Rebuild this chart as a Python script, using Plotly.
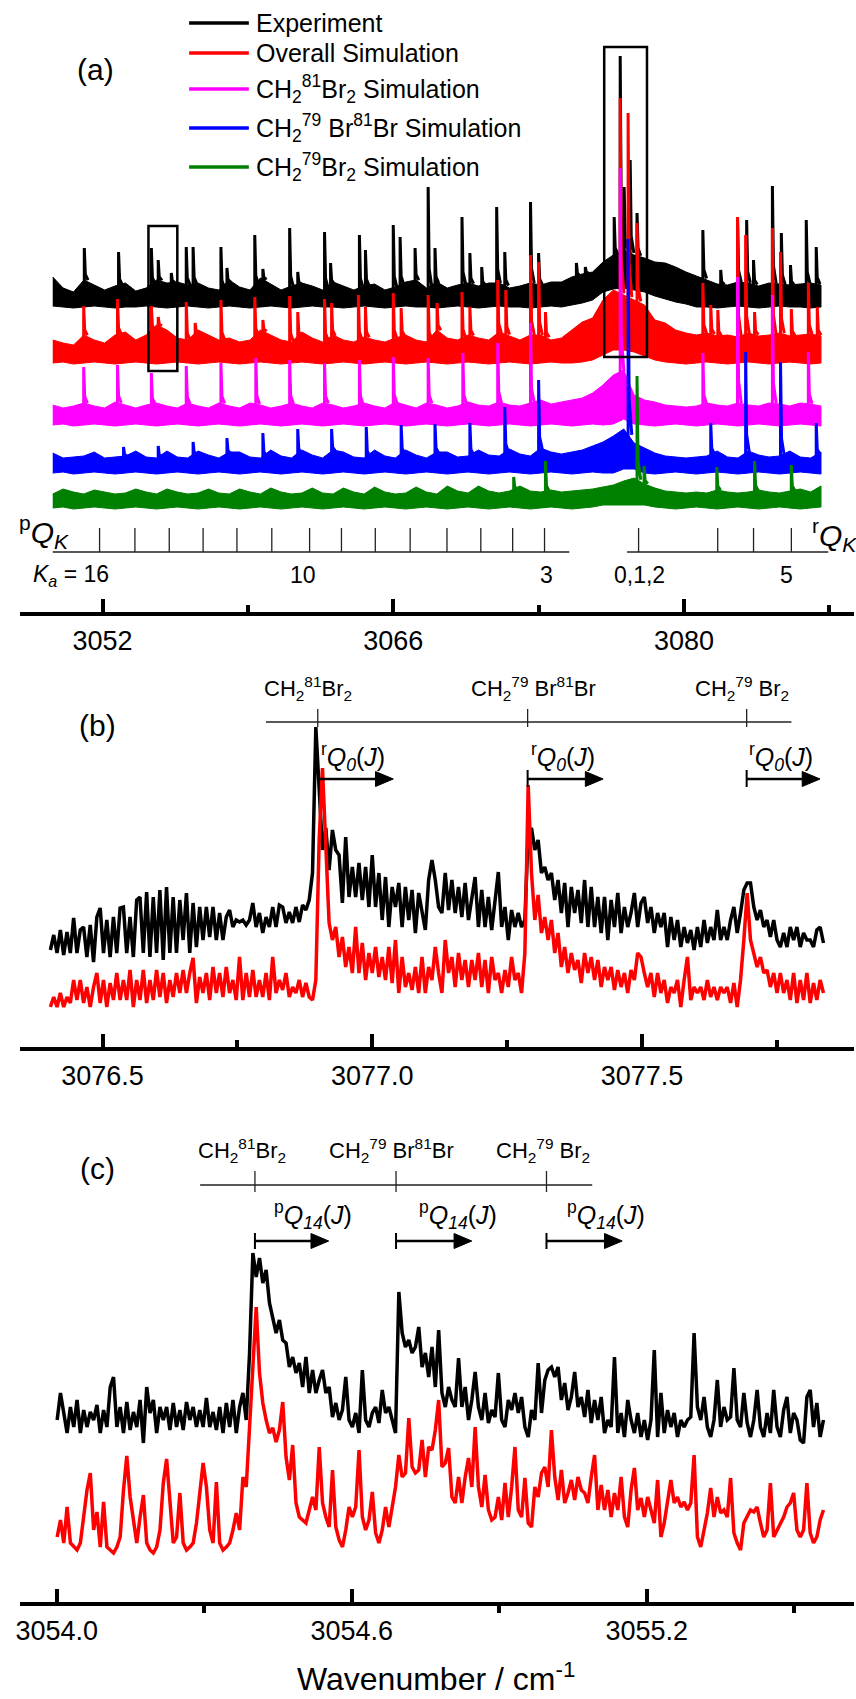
import numpy as np
import plotly.graph_objects as go

FONT = "Liberation Sans, Arial, Helvetica, sans-serif"
W, H = 856, 1699
BLACK, RED, MAG, BLUE, GREEN = "#000000", "#ff0000", "#ff00ff", "#0000ff", "#008000"

# ================= Panel (a): overview 3048-3088 cm-1 =================
A_GRID_START, A_GRID_END, A_GRID_N = 3049.6, 3086.6, 75

A_BLACK_HI = [3.35, 3.24, 3.20, 3.32, 3.27, 3.22, 3.26, 3.29, 3.21, 3.24,
              3.32, 3.29, 3.30, 3.27, 3.29, 3.24, 3.22, 3.32, 3.25, 3.22,
              3.34, 3.28, 3.22, 3.26, 3.29, 3.26, 3.22, 3.30, 3.26, 3.22,
              3.26, 3.28, 3.22, 3.25, 3.30, 3.32, 3.24, 3.30, 3.24, 3.27,
              3.29, 3.26, 3.29, 3.29, 3.24, 3.26, 3.29, 3.27, 3.30, 3.30,
              3.35, 3.38, 3.40, 3.50, 3.57, 3.62, 3.57, 3.54, 3.50, 3.49,
              3.45, 3.40, 3.36, 3.32, 3.28, 3.27, 3.30, 3.29, 3.26, 3.29,
              3.28, 3.27, 3.28, 3.29, 3.27]
A_BLACK_LO = [3.06, 3.05, 3.04, 3.05, 3.06, 3.05, 3.04, 3.05, 3.05, 3.06,
              3.05, 3.04, 3.05, 3.06, 3.05, 3.04, 3.05, 3.06, 3.05, 3.04,
              3.05, 3.06, 3.05, 3.04, 3.05, 3.06, 3.05, 3.05, 3.04, 3.05,
              3.06, 3.05, 3.04, 3.05, 3.06, 3.05, 3.05, 3.04, 3.05, 3.06,
              3.05, 3.04, 3.05, 3.06, 3.05, 3.05, 3.04, 3.05, 3.06, 3.05,
              3.07, 3.09, 3.12, 3.20, 3.23, 3.24, 3.22, 3.20, 3.16, 3.13,
              3.10, 3.08, 3.05, 3.05, 3.04, 3.05, 3.06, 3.05, 3.04, 3.05,
              3.06, 3.05, 3.05, 3.04, 3.05]
A_BLACK_PK_X = [3051.12, 3052.77, 3054.35, 3054.68, 3055.31, 3056.03, 3056.36, 3057.70, 3057.99, 3059.33,
                3059.72, 3061.01, 3061.40, 3062.69, 3062.98, 3064.37, 3064.66, 3066.00, 3066.33, 3067.05,
                3067.68, 3068.01, 3069.31, 3069.69, 3070.26, 3070.98, 3071.37, 3072.61, 3073.00, 3074.82,
                3075.25, 3076.64, 3076.93, 3077.12, 3077.41, 3077.74, 3080.91, 3081.77, 3082.58, 3083.02,
                3083.35, 3084.26, 3084.69, 3085.13, 3085.89, 3086.37]
A_BLACK_PK_Y = [3.64, 3.60, 3.64, 3.52, 3.39, 3.65, 3.65, 3.65, 3.44, 3.77,
                3.43, 3.84, 3.40, 3.80, 3.49, 3.77, 3.62, 3.87, 3.75, 3.64,
                4.25, 3.64, 3.95, 3.59, 3.45, 4.05, 3.60, 4.10, 3.59, 3.49,
                3.45, 3.95, 5.56, 4.25, 4.52, 3.99, 3.82, 3.42, 3.95, 3.92,
                3.52, 4.26, 3.79, 3.47, 3.92, 3.65]

A_RED_HI = [2.72, 2.69, 2.67, 2.77, 2.72, 2.69, 2.77, 2.80, 2.72, 2.77,
            2.87, 2.82, 2.74, 2.72, 2.82, 2.77, 2.72, 2.74, 2.70, 2.72,
            2.82, 2.77, 2.72, 2.70, 2.80, 2.74, 2.70, 2.77, 2.72, 2.70,
            2.75, 2.72, 2.70, 2.74, 2.77, 2.72, 2.70, 2.82, 2.74, 2.72,
            2.77, 2.74, 2.72, 2.80, 2.76, 2.72, 2.77, 2.77, 2.72, 2.74,
            2.82, 2.90, 2.94, 3.12, 3.22, 3.17, 3.12, 3.07, 2.92, 2.89,
            2.82, 2.79, 2.77, 2.79, 2.76, 2.77, 2.75, 2.79, 2.76, 2.77,
            2.79, 2.76, 2.77, 2.78, 2.76]
A_RED_LO = [2.49, 2.50, 2.48, 2.49, 2.50, 2.49, 2.48, 2.49, 2.50, 2.49,
            2.48, 2.49, 2.50, 2.49, 2.48, 2.49, 2.50, 2.49, 2.48, 2.49,
            2.50, 2.49, 2.48, 2.49, 2.50, 2.49, 2.48, 2.49, 2.50, 2.49,
            2.48, 2.49, 2.50, 2.49, 2.48, 2.49, 2.50, 2.49, 2.48, 2.49,
            2.50, 2.49, 2.48, 2.49, 2.50, 2.49, 2.48, 2.49, 2.50, 2.49,
            2.49, 2.50, 2.52, 2.57, 2.62, 2.62, 2.60, 2.56, 2.52, 2.50,
            2.49, 2.48, 2.49, 2.50, 2.49, 2.48, 2.49, 2.50, 2.49, 2.48,
            2.49, 2.50, 2.49, 2.48, 2.49]
A_RED_PK_X = [3051.09, 3052.72, 3054.35, 3054.68, 3056.03, 3056.46, 3057.70, 3059.33, 3059.72, 3061.01,
              3061.40, 3062.69, 3063.03, 3064.32, 3064.66, 3066.00, 3066.38, 3067.68, 3068.11, 3069.31,
              3069.69, 3071.03, 3071.42, 3072.61, 3073.00, 3073.33, 3076.93, 3077.31, 3077.74, 3080.91,
              3081.29, 3081.63, 3082.58, 3082.97, 3083.40, 3084.26, 3084.65, 3085.17, 3085.99, 3086.42]
A_RED_PK_Y = [3.06, 3.13, 3.06, 2.95, 3.10, 2.89, 3.12, 3.15, 2.92, 3.16,
              3.00, 3.13, 3.09, 3.17, 3.05, 3.19, 3.04, 3.17, 3.09, 3.20,
              3.05, 3.32, 3.22, 3.57, 3.50, 3.00, 5.14, 4.99, 3.89, 3.29,
              3.07, 3.02, 3.95, 3.77, 3.00, 3.84, 3.60, 3.03, 3.29, 3.05]

A_MAG_HI = [2.07, 2.04, 2.06, 2.09, 2.06, 2.04, 2.10, 2.07, 2.04, 2.07,
            2.09, 2.06, 2.04, 2.09, 2.06, 2.04, 2.09, 2.06, 2.04, 2.09,
            2.07, 2.04, 2.06, 2.09, 2.06, 2.04, 2.09, 2.07, 2.04, 2.06,
            2.09, 2.06, 2.04, 2.10, 2.07, 2.04, 2.09, 2.07, 2.04, 2.06,
            2.10, 2.07, 2.06, 2.10, 2.07, 2.06, 2.09, 2.12, 2.08, 2.10,
            2.12, 2.14, 2.19, 2.27, 2.37, 2.42, 2.17, 2.12, 2.10, 2.07,
            2.06, 2.05, 2.06, 2.09, 2.07, 2.06, 2.09, 2.07, 2.06, 2.09,
            2.08, 2.06, 2.09, 2.08, 2.06]
A_MAG_LO = [1.87, 1.88, 1.86, 1.87, 1.88, 1.87, 1.86, 1.87, 1.88, 1.87,
            1.86, 1.87, 1.88, 1.87, 1.86, 1.87, 1.88, 1.87, 1.86, 1.87,
            1.88, 1.87, 1.86, 1.87, 1.88, 1.87, 1.86, 1.87, 1.88, 1.87,
            1.86, 1.87, 1.88, 1.87, 1.86, 1.87, 1.88, 1.87, 1.86, 1.87,
            1.88, 1.87, 1.86, 1.87, 1.88, 1.87, 1.86, 1.87, 1.88, 1.87,
            1.86, 1.87, 1.88, 1.87, 1.88, 1.93, 1.88, 1.87, 1.86, 1.87,
            1.88, 1.87, 1.86, 1.87, 1.88, 1.87, 1.86, 1.87, 1.88, 1.87,
            1.86, 1.87, 1.88, 1.87, 1.86]
A_MAG_PK_X = [3051.09, 3052.72, 3054.35, 3056.03, 3057.70, 3059.38, 3061.01, 3062.69, 3064.37, 3066.00,
              3067.68, 3069.35, 3071.03, 3072.61, 3076.93, 3080.91, 3082.58, 3084.26, 3085.99]
A_MAG_PK_Y = [2.45, 2.47, 2.39, 2.46, 2.49, 2.54, 2.52, 2.49, 2.52, 2.55,
              2.54, 2.59, 2.69, 2.89, 4.44, 2.59, 3.35, 3.17, 2.60]

A_BLUE_HI = [1.59, 1.54, 1.55, 1.56, 1.60, 1.54, 1.55, 1.56, 1.61, 1.55,
             1.54, 1.61, 1.55, 1.54, 1.61, 1.57, 1.54, 1.60, 1.60, 1.55,
             1.54, 1.62, 1.56, 1.54, 1.62, 1.57, 1.54, 1.62, 1.60, 1.55,
             1.54, 1.62, 1.56, 1.54, 1.62, 1.57, 1.54, 1.60, 1.60, 1.55,
             1.56, 1.62, 1.57, 1.56, 1.63, 1.58, 1.56, 1.64, 1.60, 1.58,
             1.60, 1.62, 1.66, 1.70, 1.76, 1.83, 1.69, 1.64, 1.59, 1.56,
             1.55, 1.54, 1.55, 1.56, 1.61, 1.55, 1.54, 1.61, 1.57, 1.55,
             1.56, 1.61, 1.55, 1.54, 1.60]
A_BLUE_LO = [1.39, 1.40, 1.38, 1.39, 1.40, 1.39, 1.38, 1.39, 1.40, 1.39,
             1.38, 1.39, 1.40, 1.39, 1.38, 1.39, 1.40, 1.39, 1.38, 1.39,
             1.40, 1.39, 1.38, 1.39, 1.40, 1.39, 1.38, 1.39, 1.40, 1.39,
             1.38, 1.39, 1.40, 1.39, 1.38, 1.39, 1.40, 1.39, 1.38, 1.39,
             1.40, 1.39, 1.38, 1.39, 1.40, 1.39, 1.38, 1.39, 1.40, 1.39,
             1.38, 1.39, 1.40, 1.39, 1.39, 1.43, 1.43, 1.39, 1.38, 1.39,
             1.40, 1.39, 1.38, 1.39, 1.40, 1.39, 1.38, 1.39, 1.40, 1.39,
             1.38, 1.39, 1.40, 1.39, 1.38]
A_BLUE_PK_X = [3053.01, 3054.68, 3056.36, 3057.99, 3059.72, 3061.40, 3063.03, 3064.70, 3066.38, 3068.01,
               3069.69, 3071.37, 3073.00, 3077.31, 3081.29, 3082.97, 3084.65, 3086.37]
A_BLUE_PK_Y = [1.65, 1.66, 1.70, 1.74, 1.79, 1.83, 1.83, 1.85, 1.87, 1.88,
               1.89, 2.05, 2.32, 3.73, 1.89, 2.60, 2.50, 1.89]

A_GREEN_HI = [1.18, 1.23, 1.20, 1.18, 1.22, 1.20, 1.18, 1.19, 1.23, 1.20,
              1.18, 1.23, 1.20, 1.18, 1.19, 1.23, 1.19, 1.18, 1.23, 1.20,
              1.18, 1.24, 1.20, 1.18, 1.19, 1.24, 1.19, 1.18, 1.24, 1.20,
              1.18, 1.25, 1.20, 1.18, 1.19, 1.25, 1.20, 1.18, 1.26, 1.21,
              1.19, 1.26, 1.21, 1.19, 1.21, 1.26, 1.21, 1.20, 1.22, 1.20,
              1.21, 1.22, 1.23, 1.25, 1.27, 1.31, 1.34, 1.28, 1.24, 1.21,
              1.20, 1.19, 1.20, 1.19, 1.22, 1.20, 1.19, 1.20, 1.22, 1.20,
              1.19, 1.21, 1.23, 1.20, 1.26]
A_GREEN_LO = [1.04, 1.05, 1.03, 1.04, 1.05, 1.04, 1.03, 1.04, 1.05, 1.04,
              1.03, 1.04, 1.05, 1.04, 1.03, 1.04, 1.05, 1.04, 1.03, 1.04,
              1.05, 1.04, 1.03, 1.04, 1.05, 1.04, 1.03, 1.04, 1.05, 1.04,
              1.03, 1.04, 1.05, 1.04, 1.03, 1.04, 1.05, 1.04, 1.03, 1.04,
              1.05, 1.04, 1.03, 1.04, 1.05, 1.04, 1.03, 1.04, 1.05, 1.04,
              1.03, 1.04, 1.05, 1.07, 1.07, 1.07, 1.07, 1.07, 1.05, 1.04,
              1.03, 1.04, 1.05, 1.04, 1.03, 1.04, 1.05, 1.04, 1.03, 1.04,
              1.05, 1.04, 1.03, 1.04, 1.05]
A_GREEN_PK_X = [3071.80, 3073.33, 3077.74, 3078.08, 3081.58, 3083.40, 3085.17]
A_GREEN_PK_Y = [1.35, 1.51, 2.36, 1.46, 1.45, 1.51, 1.47]

PQ_K_TICKS = [3051.856, 3053.558, 3055.212, 3056.842, 3058.472, 3060.150, 3061.971,
              3063.505, 3065.135, 3066.813, 3068.587, 3070.217, 3071.751, 3073.285]
RQ_K_TICKS = [3077.815, 3081.626, 3083.351, 3085.173]
KA_LABELS = ["<i>K</i><sub><i>a</i></sub> = 16", "10", "3", "0,1,2", "5"]
KA_LABEL_X = [3050.47, 3061.64, 3073.38, 3077.84, 3084.93]

# ================= Panel (b): 3076.35-3077.9 cm-1 =================
B_X_START, B_X_END = 3076.4034, 3077.8364
B_BLACK = [0.97, 1.12, 0.94, 1.17, 0.92, 1.15, 0.94, 1.29, 0.94, 1.17,
           1.20, 0.90, 1.22, 0.85, 1.30, 1.39, 0.94, 1.27, 0.90, 1.30,
           0.94, 1.39, 1.40, 0.94, 1.30, 0.90, 1.47, 1.50, 0.94, 1.55,
           0.90, 1.50, 0.94, 1.57, 0.87, 1.60, 0.94, 1.50, 0.94, 1.47,
           1.07, 1.54, 0.94, 1.44, 1.00, 1.40, 1.07, 1.40, 1.10, 1.40,
           1.07, 1.34, 1.07, 1.30, 1.37, 1.20, 1.27, 1.25, 1.27, 1.22,
           1.27, 1.44, 1.20, 1.34, 1.14, 1.30, 1.20, 1.40, 1.20, 1.42,
           1.40, 1.24, 1.35, 1.24, 1.40, 1.25, 1.42, 1.37, 1.47, 1.74,
           3.20, 2.57, 1.97, 2.19, 1.77, 2.17, 1.97, 1.92, 1.44, 2.10,
           1.50, 1.80, 1.50, 1.84, 1.47, 1.80, 1.40, 1.92, 1.40, 1.74,
           1.27, 1.70, 1.20, 1.60, 1.40, 1.64, 1.20, 1.60, 1.27, 1.57,
           1.14, 1.54, 1.34, 1.17, 1.67, 1.87, 1.67, 1.40,
           1.34, 1.74, 1.37, 1.67, 1.34, 1.60, 1.30, 1.64, 1.27, 1.47,
           1.70, 1.20, 1.57, 1.20, 1.50, 1.17, 1.47, 1.75, 1.20, 1.40,
           1.07, 1.37, 1.20, 1.34, 1.20, 1.27, 2.14, 2.19, 1.97, 2.07,
           1.74, 1.80, 1.67, 1.74, 1.47, 1.67, 1.34, 1.64, 1.20, 1.60,
           1.34, 1.57, 1.24, 1.67, 1.20, 1.60, 1.20, 1.50, 1.14, 1.50,
           1.07, 1.47, 1.20, 1.54, 1.14, 1.40, 1.20, 1.34, 1.54, 1.20,
           1.44, 1.50, 1.24, 1.40, 1.14, 1.34, 1.20, 1.34, 1.00, 1.30,
           1.07, 1.27, 1.00, 1.20, 1.04, 1.17, 0.97, 1.20, 1.00, 1.27,
           1.04, 1.20, 1.07, 1.37, 1.07, 1.20, 1.07, 1.27, 1.40, 1.14,
           1.34, 1.57, 1.64, 1.64, 1.40, 1.27, 1.37, 1.20, 1.27, 1.10,
           1.27, 1.07, 1.00, 1.14, 1.00, 1.20, 1.07, 1.20, 1.00, 1.14,
           1.07, 1.07, 1.00, 1.17, 1.20, 1.04]
B_RED = [0.40, 0.50, 0.40, 0.54, 0.40, 0.50, 0.44, 0.67, 0.47, 0.67,
         0.44, 0.60, 0.40, 0.60, 0.74, 0.44, 0.67, 0.40, 0.64, 0.47,
         0.74, 0.47, 0.67, 0.47, 0.77, 0.40, 0.67, 0.47, 0.77, 0.44,
         0.67, 0.47, 0.77, 0.50, 0.74, 0.44, 0.67, 0.50, 0.74, 0.54,
         0.77, 0.54, 0.74, 0.89, 0.44, 0.70, 0.54, 0.74, 0.47, 0.80,
         0.54, 0.74, 0.50, 0.80, 0.54, 0.67, 0.47, 0.90, 0.47, 0.74,
         0.50, 0.77, 0.50, 0.67, 0.50, 0.74, 0.47, 0.90, 0.54, 0.67,
         0.57, 0.74, 0.50, 0.60, 0.54, 0.67, 0.50, 0.64, 0.50, 0.47,
         0.67, 2.07, 2.79, 1.90, 1.24, 1.07, 1.20, 0.90, 1.10, 0.80,
         1.00, 0.74, 1.20, 0.74, 1.04, 0.67, 0.94, 0.74, 1.00, 0.70,
         0.90, 0.67, 1.00, 0.64, 1.07, 0.54, 0.90, 0.60, 0.74, 0.57,
         0.80, 0.54, 0.90, 0.54, 0.80, 0.67, 1.00, 0.74,
         0.54, 1.07, 0.74, 0.90, 0.60, 0.94, 0.67, 0.87, 0.60, 0.87,
         0.67, 0.94, 0.60, 0.87, 0.54, 0.90, 0.67, 0.74, 0.54, 0.77,
         0.60, 0.90, 0.67, 0.74, 0.54, 0.94, 2.62, 1.74, 1.27, 1.52,
         1.14, 1.30, 1.07, 1.27, 0.94, 1.14, 0.80, 1.00, 0.74, 0.94,
         0.77, 0.87, 0.64, 0.94, 0.74, 0.90, 0.67, 0.87, 0.60, 0.80,
         0.67, 0.80, 0.57, 0.77, 0.60, 0.74, 0.54, 0.77, 0.67, 0.94,
         0.90, 0.74, 0.60, 0.74, 0.50, 0.74, 0.54, 0.67, 0.44, 0.60,
         0.54, 0.67, 0.40, 0.67, 0.90, 0.47, 0.60, 0.54, 0.60, 0.47,
         0.67, 0.50, 0.60, 0.47, 0.60, 0.54, 0.60, 0.44, 0.64, 0.40,
         0.67, 1.07, 1.54, 1.07, 0.94, 0.80, 0.90, 0.74, 0.77, 0.60,
         0.74, 0.54, 0.74, 0.54, 0.67, 0.47, 0.74, 0.44, 0.67, 0.47,
         0.74, 0.44, 0.64, 0.47, 0.67, 0.54]
B_ORIGINS = [3076.899, 3077.288, 3077.694]
B_ARROW_TIPS = [3077.039, 3077.428, 3077.830]
B_SPECIES_X = [3076.880, 3077.299, 3077.686]
B_BRANCH_X = [3076.965, 3077.354, 3077.758]

# ================= Panel (c): 3053.9-3055.6 cm-1 =================
C_X_START, C_X_END = 3054.0007, 3055.5594
C_BLACK = [1.18, 1.45, 1.25, 1.05, 1.31, 1.11, 1.38, 1.05, 1.28, 1.11,
           1.26, 1.18, 1.33, 1.05, 1.28, 1.11, 1.51, 1.61, 1.11, 1.31,
           1.05, 1.36, 1.08, 1.26, 1.11, 1.38, 0.95, 1.51, 1.25, 1.38,
           1.05, 1.31, 1.18, 1.31, 1.08, 1.35, 1.11, 1.28, 1.08, 1.36,
           1.18, 1.31, 1.11, 1.28, 1.11, 1.40, 1.11, 1.26, 1.08, 1.31,
           1.05, 1.35, 1.11, 1.38, 1.05, 1.31, 1.45, 1.18, 1.85, 2.85,
           2.61, 2.80, 2.55, 2.68, 2.35, 2.18, 2.05, 2.18, 1.98, 1.95,
           1.71, 1.81, 1.65, 1.75, 1.51, 1.81, 1.45, 1.68, 1.45, 1.58,
           1.68, 1.45, 1.51, 1.21, 1.35, 1.18, 1.28, 1.61, 1.18, 1.11,
           1.25, 1.05, 1.68, 1.18, 1.11, 1.25, 1.31, 1.15, 1.48, 1.25,
           1.31, 1.18, 1.05, 2.46, 2.05, 1.91, 1.98, 1.85, 1.91, 2.11,
           1.71, 1.85, 1.61, 1.91, 1.51, 2.08,
           1.45, 1.31, 1.51, 1.38, 1.31, 1.80, 1.31, 1.51, 1.18, 1.38,
           1.66, 1.31, 1.18, 1.45, 1.15, 1.28, 1.21, 1.65, 1.18, 1.11,
           1.38, 1.28, 1.45, 1.25, 1.41, 1.11, 1.01, 1.28, 1.18, 1.75,
           1.25, 1.58, 1.68, 1.71, 1.61, 1.71, 1.38, 1.55, 1.28, 1.41,
           1.66, 1.31, 1.41, 1.21, 1.48, 1.15, 1.38, 1.18, 1.41, 1.05,
           1.18, 1.11, 1.81, 1.05, 1.25, 1.01, 1.38, 1.18, 1.05, 1.25,
           1.01, 1.18, 0.98, 1.18, 1.88, 1.01, 1.45, 1.05, 1.28, 1.11,
           1.25, 1.01, 1.18, 1.11, 1.18, 1.21, 2.05, 1.31, 1.18, 1.41,
           1.11, 1.01, 1.18, 1.58, 1.11, 1.31, 1.18, 1.21, 1.70, 1.18,
           1.11, 1.45, 1.15, 1.01, 1.18, 1.48, 1.11, 1.01, 1.25, 1.05,
           1.48, 1.11, 1.01, 1.28, 1.41, 1.05, 1.25, 1.18, 0.98, 0.95,
           1.41, 1.48, 1.11, 1.35, 1.01, 1.18]
C_RED = [0.01, 0.18, -0.05, 0.31, -0.05, -0.09, -0.12, -0.05, 0.21, 0.48,
         0.65, 0.08, 0.26, -0.09, 0.36, -0.09, -0.12, -0.15, -0.09, 0.01,
         0.48, 0.82, 0.41, 0.18, -0.05, 0.21, 0.43, -0.05, -0.12, -0.15,
         -0.09, 0.08, 0.55, 0.79, 0.35, -0.05, 0.01, 0.45, -0.05, -0.12,
         -0.09, -0.05, 0.15, 0.48, 0.75, 0.51, 0.08, -0.05, 0.56, -0.05,
         -0.12, -0.09, -0.05, 0.08, 0.25, 0.08, 0.61, 0.51, 1.08, 1.68,
         2.31, 1.65, 1.35, 1.18, 1.05, 1.10, 0.96, 1.08, 1.36, 0.81,
         0.58, 0.93, 0.35, 0.21, 0.18, 0.15, 0.28, 0.41, 0.28, 0.91,
         0.35, 0.21, 0.11, 0.68, 0.11, -0.02, -0.09, 0.08, 0.31, 0.21,
         0.31, 0.88, 0.21, 0.08, 0.18, 0.46, 0.05, -0.05, 0.08, 0.31,
         0.11, 0.31, 0.51, 0.83, 0.61, 0.65, 1.20, 0.71, 0.65, 0.68,
         0.98, 0.61, 0.91, 0.88, 1.08, 1.38,
         0.71, 0.75, 0.90, 0.41, 0.35, 0.61, 0.35, 0.61, 0.80, 0.51,
         1.11, 0.51, 0.31, 0.63, 0.28, 0.18, 0.21, 0.41, 0.18, 0.55,
         0.21, 0.51, 0.91, 0.28, 0.21, 0.60, 0.15, 0.11, 0.51, 0.41,
         0.65, 0.71, 0.51, 1.08, 0.61, 0.38, 0.68, 0.35, 0.45, 0.58,
         0.38, 0.61, 0.48, 0.45, 0.35, 0.61, 0.83, 0.28, 0.53, 0.28,
         0.48, 0.21, 0.45, 0.28, 0.61, 0.21, 0.11, 0.48, 0.70, 0.28,
         0.40, 0.21, 0.41, 0.28, 0.15, 0.58, 0.01, 0.15, 0.35, 0.58,
         0.35, 0.41, 0.31, 0.36, 0.28, 0.35, 0.83, 0.01, -0.09, 0.08,
         0.25, 0.50, 0.21, 0.41, 0.25, 0.28, 0.21, 0.60, 0.05, -0.05,
         -0.12, 0.15, 0.21, 0.28, 0.26, 0.31, 0.15, 0.01, 0.08, 0.55,
         0.01, 0.08, 0.15, 0.21, 0.31, 0.35, 0.45, 0.08, 0.01, 0.08,
         0.55, 0.05, -0.05, 0.01, 0.18, 0.28]
C_ORIGINS = [3054.403, 3054.690, 3054.996]
C_ARROW_TIPS = [3054.553, 3054.844, 3055.150]
C_SPECIES_X = [3054.3765, 3054.680, 3054.988]
C_BRANCH_X = [3054.522, 3054.816, 3055.117]

SPECIES = ["CH<sub>2</sub><sup>81</sup>Br<sub>2</sub>",
           "CH<sub>2</sub><sup>79</sup> Br<sup>81</sup>Br",
           "CH<sub>2</sub><sup>79</sup> Br<sub>2</sub>"]
LEGEND_NAMES = ["Experiment", "Overall Simulation",
                "CH<sub>2</sub><sup>81</sup>Br<sub>2</sub> Simulation",
                "CH<sub>2</sub><sup>79</sup> Br<sup>81</sup>Br Simulation",
                "CH<sub>2</sub><sup>79</sup>Br<sub>2</sub> Simulation"]
LEGEND_COLORS = [BLACK, RED, MAG, BLUE, GREEN]

# ---------------------------------------------------------------
fig = go.Figure()
a_grid = np.linspace(A_GRID_START, A_GRID_END, A_GRID_N)


def add_overview_trace(hi, lo, pk_x, pk_y, color, name):
    gx = list(a_grid) + list(a_grid[::-1])
    gy = list(hi) + list(lo[::-1])
    fig.add_trace(go.Scatter(x=gx, y=gy, fill="toself", fillcolor=color, mode="lines",
                             line=dict(color=color, width=1), name=name, showlegend=False,
                             xaxis="x", yaxis="y", hoverinfo="skip"))
    xs, ys = [], []
    for px, py in zip(pk_x, pk_y):
        base = float(np.interp(px, a_grid, lo))
        top_band = float(np.interp(px, a_grid, hi))
        xs += [px, px, px + 0.05, px + 0.18, None]
        ys += [base, py, top_band + 0.18 * (py - top_band), top_band, None]
    fig.add_trace(go.Scatter(x=xs, y=ys, mode="lines", line=dict(color=color, width=3),
                             name=name, showlegend=False, xaxis="x", yaxis="y"))


add_overview_trace(A_BLACK_HI, A_BLACK_LO, A_BLACK_PK_X, A_BLACK_PK_Y, BLACK, "Experiment")
add_overview_trace(A_RED_HI, A_RED_LO, A_RED_PK_X, A_RED_PK_Y, RED, "Overall Simulation")
add_overview_trace(A_MAG_HI, A_MAG_LO, A_MAG_PK_X, A_MAG_PK_Y, MAG, "CH2 81Br2 Simulation")
add_overview_trace(A_BLUE_HI, A_BLUE_LO, A_BLUE_PK_X, A_BLUE_PK_Y, BLUE, "CH2 79Br81Br Simulation")
add_overview_trace(A_GREEN_HI, A_GREEN_LO, A_GREEN_PK_X, A_GREEN_PK_Y, GREEN, "CH2 79Br2 Simulation")

b_x = np.linspace(B_X_START, B_X_END, len(B_BLACK))
fig.add_trace(go.Scatter(x=b_x, y=B_BLACK, mode="lines", line=dict(color=BLACK, width=3.5),
                         name="Experiment", showlegend=False, xaxis="x2", yaxis="y2"))
fig.add_trace(go.Scatter(x=b_x, y=B_RED, mode="lines", line=dict(color=RED, width=3.5),
                         name="Overall Simulation", showlegend=False, xaxis="x2", yaxis="y2"))

c_x = np.linspace(C_X_START, C_X_END, len(C_BLACK))
fig.add_trace(go.Scatter(x=c_x, y=C_BLACK, mode="lines", line=dict(color=BLACK, width=3.5),
                         name="Experiment", showlegend=False, xaxis="x3", yaxis="y3"))
fig.add_trace(go.Scatter(x=c_x, y=C_RED, mode="lines", line=dict(color=RED, width=3.5),
                         name="Overall Simulation", showlegend=False, xaxis="x3", yaxis="y3"))

shapes, ann = [], []
THIN = dict(color="#222222", width=1.3)

# panel (a) boxes
shapes.append(dict(type="rect", xref="x", yref="y", x0=3054.21, x1=3055.60, y0=2.41, y1=3.86,
                   line=dict(color=BLACK, width=2.5)))
shapes.append(dict(type="rect", xref="x", yref="y", x0=3076.16, x1=3078.22, y0=2.55, y1=5.65,
                   line=dict(color=BLACK, width=2.5)))
# K-structure combs
shapes.append(dict(type="line", xref="x", yref="y", x0=3049.60, x1=3074.48, y0=0.60, y1=0.60, line=THIN))
shapes.append(dict(type="line", xref="x", yref="y", x0=3077.26, x1=3086.95, y0=0.60, y1=0.60, line=THIN))
for t in PQ_K_TICKS + RQ_K_TICKS:
    shapes.append(dict(type="line", xref="x", yref="y", x0=t, x1=t, y0=0.60, y1=0.84, line=THIN))
for lab, lx in zip(KA_LABELS, KA_LABEL_X):
    ann.append(dict(text=lab, x=lx, y=0.37, xref="x", yref="y", showarrow=False,
                    font=dict(size=23, family=FONT, color=BLACK)))
ann.append(dict(text="<sup>p</sup><i>Q</i><sub><i>K</i></sub>", x=3049.17, y=0.80, xref="x", yref="y",
                showarrow=False, font=dict(size=30, family=FONT, color=BLACK)))
ann.append(dict(text="<sup>r</sup><i>Q</i><sub><i>K</i></sub>", x=3087.25, y=0.77, xref="x", yref="y",
                showarrow=False, font=dict(size=30, family=FONT, color=BLACK)))


def band_labels(xa, ya, origins, tips, species_x, species_y, line_y, tick_y0, tick_y1,
                line_x0, line_x1, branch_x, branch_y, branch_text, arrow_y, bar_y0, bar_y1, bars,
                head_len, head_half):
    shapes.append(dict(type="line", xref=xa, yref=ya, x0=line_x0, x1=line_x1, y0=line_y, y1=line_y, line=THIN))
    for o in origins:
        shapes.append(dict(type="line", xref=xa, yref=ya, x0=o, x1=o, y0=tick_y0, y1=tick_y1, line=THIN))
    for s, sx in zip(SPECIES, species_x):
        ann.append(dict(text=s, x=sx, y=species_y, xref=xa, yref=ya, showarrow=False,
                        font=dict(size=22, family=FONT, color=BLACK)))
    for bx in branch_x:
        ann.append(dict(text=branch_text, x=bx, y=branch_y, xref=xa, yref=ya, showarrow=False,
                        font=dict(size=25, family=FONT, color=BLACK)))
    for i, (o, tip) in enumerate(zip(origins, tips)):
        base = tip - head_len
        shapes.append(dict(type="line", xref=xa, yref=ya, x0=o, x1=base, y0=arrow_y, y1=arrow_y,
                           line=dict(color=BLACK, width=2.5)))
        shapes.append(dict(type="path", xref=xa, yref=ya,
                           path=f"M {base},{arrow_y - head_half} L {tip},{arrow_y} L {base},{arrow_y + head_half} Z",
                           fillcolor=BLACK, line=dict(color=BLACK, width=1)))
        if bars[i]:
            shapes.append(dict(type="line", xref=xa, yref=ya, x0=o, x1=o, y0=bar_y0, y1=bar_y1,
                               line=dict(color=BLACK, width=2)))


band_labels("x2", "y2", B_ORIGINS, B_ARROW_TIPS, B_SPECIES_X, 3.59, 3.25, 3.20, 3.38,
            3076.803, 3077.777, B_BRANCH_X, 2.90,
            "<sup>r</sup><i>Q<sub>0</sub></i>(<i>J</i>)", 2.68, 2.60, 2.77, [False, True, True],
            0.033, 0.075)
band_labels("x3", "y3", C_ORIGINS, C_ARROW_TIPS, C_SPECIES_X, 3.88, 3.53, 3.46, 3.67,
            3054.2915, 3055.089, C_BRANCH_X, 3.23,
            "<sup>p</sup><i>Q<sub>14</sub></i>(<i>J</i>)", 2.97, 2.89, 3.05, [True, True, True],
            0.036, 0.075)

# panel letters
for txt, px, py in [("(a)", 71, 51), ("(b)", 73, 725), ("(c)", 74, 1187)]:
    ann.append(dict(text=txt, x=px / W, y=1 - py / H, xref="paper", yref="paper", showarrow=False,
                    font=dict(size=30, family=FONT, color=BLACK)))

# legend (drawn manually to match layout)
LEG_Y = [23, 53, 89, 128, 167]
for name, col, ly in zip(LEGEND_NAMES, LEGEND_COLORS, LEG_Y):
    shapes.append(dict(type="line", xref="paper", yref="paper", x0=186 / W, x1=246 / W,
                       y0=1 - ly / H, y1=1 - ly / H, line=dict(color=col, width=3.5)))
    ann.append(dict(text=name, x=251 / W, y=1 - ly / H, xref="paper", yref="paper", showarrow=False,
                    xanchor="left", yanchor="middle", font=dict(size=25, family=FONT, color=BLACK)))

ann.append(dict(text="Wavenumber / cm<sup>-1</sup>", x=434 / W, y=1 - 1677 / H, xref="paper", yref="paper",
                showarrow=False, xanchor="center", yanchor="middle",
                font=dict(size=32, family=FONT, color=BLACK)))


def xaxis_style(rng, anchor, tickvals, ticktext, minor_vals, minor_side):
    return dict(domain=[16 / W, 854 / W], range=rng, anchor=anchor, showgrid=False, zeroline=False,
                showline=True, linecolor=BLACK, linewidth=4, ticks="inside", ticklen=13, tickwidth=3.5,
                tickcolor=BLACK, tickvals=tickvals, ticktext=ticktext, ticklabelstandoff=2,
                tickfont=dict(size=27, family=FONT, color=BLACK),
                minor=dict(tickvals=minor_vals, ticks=minor_side, ticklen=7, tickwidth=3.5,
                           tickcolor=BLACK, showgrid=False))


fig.update_layout(
    width=W, height=H, margin=dict(l=0, r=0, t=0, b=0),
    paper_bgcolor="white", plot_bgcolor="white", showlegend=False,
    font=dict(family=FONT, color=BLACK),
    xaxis=xaxis_style([3048.02, 3088.19], "y", [3052, 3066, 3080], ["3052", "3066", "3080"],
                      [3059, 3073, 3087], "inside"),
    yaxis=dict(domain=[1 - 612 / H, 1], range=[0, 6.12], visible=False),
    xaxis2=xaxis_style([3076.3469, 3077.893], "y2", [3076.5, 3077.0, 3077.5],
                       ["3076.5", "3077.0", "3077.5"], [3076.75, 3077.25, 3077.75], "inside"),
    yaxis2=dict(domain=[1 - 1047 / H, 1 - 650 / H], range=[0, 3.97], visible=False),
    xaxis3=xaxis_style([3053.925, 3055.6215], "y3", [3054.0, 3054.6, 3055.2],
                       ["3054.0", "3054.6", "3055.2"], [3054.3, 3054.9, 3055.5], "outside"),
    yaxis3=dict(domain=[1 - 1602 / H, 1 - 1120 / H], range=[-0.64, 4.18], visible=False),
    shapes=shapes, annotations=ann,
)

fig.write_html("out.html")
